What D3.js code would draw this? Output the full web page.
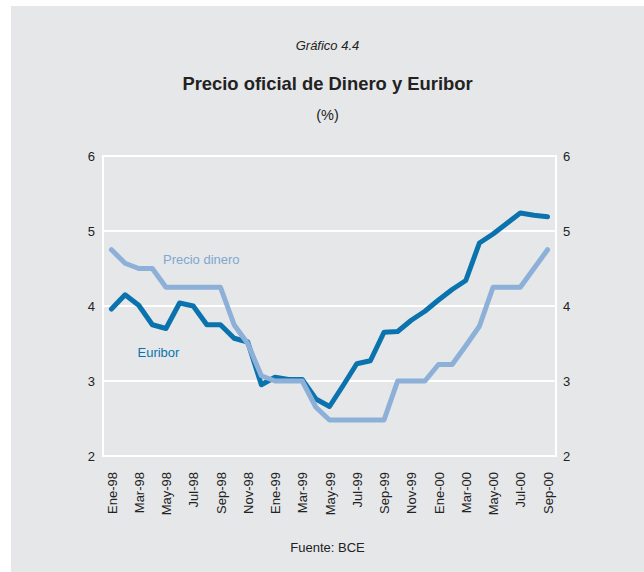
<!DOCTYPE html>
<html><head><meta charset="utf-8">
<script src="https://cdn.jsdelivr.net/npm/d3@7"></script>
<style>html,body{margin:0;padding:0;background:#fff;}svg{display:block;font-family:"Liberation Sans",Arial,sans-serif;}</style>
</head><body>
<script>
const months = ["Ene-98","Feb-98","Mar-98","Abr-98","May-98","Jun-98","Jul-98","Ago-98","Sep-98","Oct-98","Nov-98","Dic-98",
"Ene-99","Feb-99","Mar-99","Abr-99","May-99","Jun-99","Jul-99","Ago-99","Sep-99","Oct-99","Nov-99","Dic-99",
"Ene-00","Feb-00","Mar-00","Abr-00","May-00","Jun-00","Jul-00","Ago-00","Sep-00"];
const precioDinero = [4.75,4.57,4.5,4.5,4.25,4.25,4.25,4.25,4.25,3.75,3.5,3.07,
3.0,3.0,3.0,2.65,2.48,2.48,2.48,2.48,2.48,3.0,3.0,3.0,
3.22,3.22,3.47,3.73,4.25,4.25,4.25,4.5,4.75];
const euribor = [3.96,4.15,4.01,3.75,3.70,4.04,4.00,3.75,3.75,3.57,3.52,2.95,
3.05,3.02,3.02,2.76,2.66,2.94,3.23,3.27,3.65,3.66,3.81,3.93,
4.08,4.22,4.34,4.84,4.96,5.10,5.24,5.21,5.19];
const xTickLabels = ["Ene-98","Mar-98","May-98","Jul-98","Sep-98","Nov-98","Ene-99","Mar-99","May-99","Jul-99","Sep-99","Nov-99","Ene-00","Mar-00","May-00","Jul-00","Sep-00"];
const yTicks = [2,3,4,5,6];

const W=644,H=572;
const svg=d3.select("body").append("svg").attr("width",W).attr("height",H);
svg.append("rect").attr("x",11).attr("y",6).attr("width",W-11).attr("height",H-6).attr("fill","#e6e7e9");

const L=103,R=556,T=156,B=456;
const x=d3.scalePoint().domain(months).range([L,R]).padding(0.62);
const y=d3.scaleLinear().domain([2,6]).range([B,T]);

// gridlines
svg.append("g").selectAll("line").data(yTicks).join("line")
  .attr("x1",L).attr("x2",R).attr("y1",d=>y(d)).attr("y2",d=>y(d))
  .attr("stroke","#fff").attr("stroke-width",2);
// frame verticals
[L,R].forEach(px=>svg.append("line").attr("x1",px).attr("x2",px).attr("y1",T-1).attr("y2",B+1).attr("stroke","#fff").attr("stroke-width",2));

// y axes
const yl=svg.append("g").attr("transform",`translate(${L},0)`).call(d3.axisLeft(y).tickValues(yTicks).tickSize(0).tickPadding(8).tickFormat(d3.format("d")));
const yr=svg.append("g").attr("transform",`translate(${R},0)`).call(d3.axisRight(y).tickValues(yTicks).tickSize(0).tickPadding(7).tickFormat(d3.format("d")));
[yl,yr].forEach(g=>{g.select(".domain").remove();g.selectAll("text").attr("font-size",13).attr("fill","#222").attr("font-family","Liberation Sans, Arial, sans-serif");});

// x axis
const xa=svg.append("g").attr("transform",`translate(0,${B})`).call(d3.axisBottom(x).tickValues(xTickLabels).tickSize(0).tickPadding(0));
xa.select(".domain").remove();
xa.selectAll("text").attr("font-size",13).attr("fill","#222").attr("font-family","Liberation Sans, Arial, sans-serif")
  .attr("text-anchor","end").attr("y",0)
  .attr("transform","translate(0,16) rotate(-90)").attr("dx",0).attr("dy","0.35em");

const line=d3.line().x((d,i)=>x(months[i])).y(d=>y(d));
svg.append("path").datum(euribor).attr("d",line).attr("fill","none").attr("stroke","#0a73ae").attr("stroke-width",5).attr("stroke-linejoin","round").attr("stroke-linecap","round");
svg.append("path").datum(precioDinero).attr("d",line).attr("fill","none").attr("stroke","#8cb0d7").attr("stroke-width",5).attr("stroke-linejoin","round").attr("stroke-linecap","round");

// series labels
svg.append("text").attr("x",163).attr("y",264).attr("font-size",13).attr("fill","#7fa7d1").text("Precio dinero");
svg.append("text").attr("x",137.5).attr("y",357).attr("font-size",13).attr("fill","#0a73ae").text("Euribor");

// titles
const cx=327.5;
svg.append("text").attr("x",cx).attr("y",50).attr("text-anchor","middle").attr("font-size",13).attr("font-style","italic").attr("fill","#222").text("Gráfico  4.4");
svg.append("text").attr("x",cx).attr("y",90).attr("text-anchor","middle").attr("font-size",18.4).attr("font-weight","bold").attr("fill","#222").text("Precio oficial de Dinero y Euribor");
svg.append("text").attr("x",cx).attr("y",120).attr("text-anchor","middle").attr("font-size",14.5).attr("fill","#222").text("(%)");
svg.append("text").attr("x",cx).attr("y",552).attr("text-anchor","middle").attr("font-size",13).attr("fill","#222").text("Fuente: BCE");
</script>
</body></html>
